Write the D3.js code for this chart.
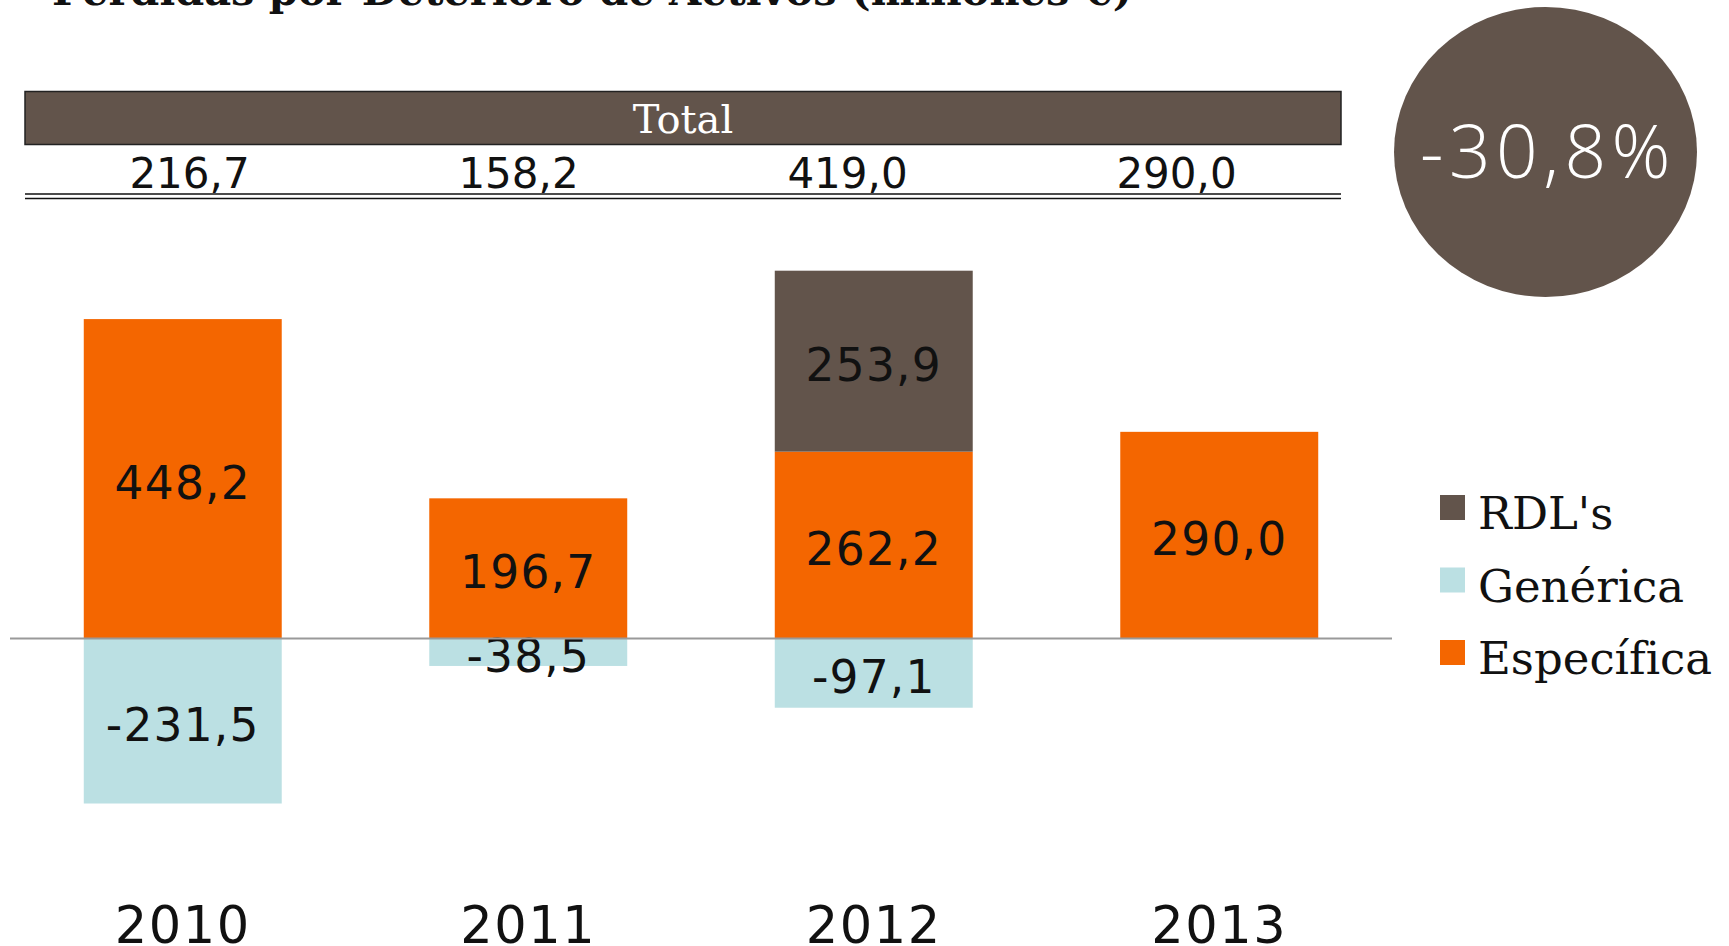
<!DOCTYPE html>
<html lang="es">
<head>
<meta charset="utf-8">
<title>Pérdidas por Deterioro de Activos</title>
<script src="https://cdn.jsdelivr.net/npm/d3@7"></script>
<style>
  html, body { margin: 0; padding: 0; background: #ffffff; }
  svg { display: block; }
</style>
</head>
<body>
<svg id="chart" width="1729" height="946"></svg>
<script>
// Pérdidas por deterioro de activos, millones de euros
const years      = ["2010", "2011", "2012", "2013"];
const especifica = [448.2, 196.7, 262.2, 290.0];
const generica   = [-231.5, -38.5, -97.1, null];
const rdls       = [null, null, 253.9, null];
const totals     = [216.7, 158.2, 419.0, 290.0];
const variation  = "-30,8%";
const seriesNames = ["RDL's", "Genérica", "Específica"];

const W = 1729, H = 946;
const colors = { rdls: "#62544b", generica: "#bbe0e3", especifica: "#f46600" };
const legendKeys = ["rdls", "generica", "especifica"];

const es = d3.formatLocale({ decimal: ",", thousands: ".", grouping: [3], currency: ["", " €"], minus: "-" });
const fmt = es.format(".1f");

const rows = years.map((y, i) => ({
  year: y,
  especifica: especifica[i] ?? 0,
  rdls: rdls[i] ?? 0,
  generica: generica[i] ?? 0
}));

const stacked = d3.stack()
  .keys(["especifica", "rdls", "generica"])
  .offset(d3.stackOffsetDiverging)(rows);

const svg = d3.select("#chart");

const x = d3.scaleBand().domain(years).range([10, 1392]).paddingInner(0.427).paddingOuter(0.2135);
const y = d3.scaleLinear().domain([-400, 600]).range([923.6, 210.9]);

// title (sits partly above the top edge)
svg.append("text")
  .attr("x", 52).attr("y", 5)
  .attr("font-family", "DejaVu Serif").attr("font-weight", "bold")
  .attr("font-size", 41.5).attr("fill", "#111")
  .text("Pérdidas por Deterioro de Activos (millones €)");

// totals table
const table = d3.scaleBand().domain(years).range([25, 1341]);
svg.append("rect")
  .attr("x", 25).attr("y", 91.5).attr("width", 1316).attr("height", 53)
  .attr("fill", "#62544b").attr("stroke", "#222").attr("stroke-width", 1.5);
svg.append("text")
  .attr("x", 683).attr("y", 133)
  .attr("text-anchor", "middle")
  .attr("font-family", "DejaVu Serif").attr("font-size", 40).attr("fill", "#fff")
  .text("Total");
svg.append("g").selectAll("text").data(totals).join("text")
  .attr("x", (d, i) => table(years[i]) + table.bandwidth() / 2)
  .attr("y", 187.5)
  .attr("text-anchor", "middle")
  .attr("font-family", "DejaVu Sans").attr("font-size", 42).attr("fill", "#111")
  .text(d => fmt(d));
[194, 198.5].forEach(ly => {
  svg.append("line")
    .attr("x1", 25).attr("x2", 1341).attr("y1", ly).attr("y2", ly)
    .attr("stroke", "#111").attr("stroke-width", 1.6);
});

// bars
const segs = [];
stacked.forEach(s => {
  s.forEach((d, i) => {
    const v = d.data[s.key];
    if (v) segs.push({ key: s.key, year: years[i], y0: d[0], y1: d[1], value: v });
  });
});

const bars = svg.append("g");
bars.selectAll("rect").data(segs).join("rect")
  .attr("x", d => x(d.year))
  .attr("width", x.bandwidth())
  .attr("y", d => y(Math.max(d.y0, d.y1)))
  .attr("height", d => Math.abs(y(d.y0) - y(d.y1)))
  .attr("fill", d => colors[d.key]);

bars.selectAll("text").data(segs).join("text")
  .attr("x", d => x(d.year) + x.bandwidth() / 2)
  .attr("y", d => (y(d.y0) + y(d.y1)) / 2 + 20)
  .attr("text-anchor", "middle")
  .attr("font-family", "DejaVu Sans").attr("font-size", 45.5)
  .attr("letter-spacing", 1.2).attr("fill", "#111")
  .text(d => fmt(d.value));

// zero line
svg.append("line")
  .attr("x1", 10).attr("x2", 1392).attr("y1", y(0)).attr("y2", y(0))
  .attr("stroke", "#999").attr("stroke-width", 2);

// category axis
const xAxis = svg.append("g")
  .attr("transform", "translate(0,943)")
  .call(d3.axisBottom(x).tickSize(0).tickPadding(0));
xAxis.select(".domain").remove();
xAxis.selectAll("text")
  .attr("dy", 0).attr("y", 0)
  .attr("font-family", "DejaVu Sans").attr("font-size", 51)
  .attr("letter-spacing", 1.5).attr("fill", "#111");

// legend
const legend = svg.append("g").selectAll("g").data(legendKeys).join("g")
  .attr("transform", (d, i) => `translate(1440,${495 + i * 72.5})`);
legend.append("rect").attr("width", 25).attr("height", 25).attr("fill", d => colors[d]);
legend.append("text")
  .attr("x", 38).attr("y", 34)
  .attr("font-family", "DejaVu Serif").attr("font-size", 45).attr("fill", "#111")
  .text((d, i) => seriesNames[i]);

// variation badge
svg.append("ellipse")
  .attr("cx", 1545.5).attr("cy", 152).attr("rx", 151.5).attr("ry", 145)
  .attr("fill", "#62544b");
svg.append("text")
  .attr("x", 1548).attr("y", 178)
  .attr("text-anchor", "middle")
  .attr("font-family", "Open Sans").attr("font-weight", 300)
  .attr("font-size", 73).attr("letter-spacing", 5.5).attr("fill", "#fff")
  .text(variation);
</script>
</body>
</html>
